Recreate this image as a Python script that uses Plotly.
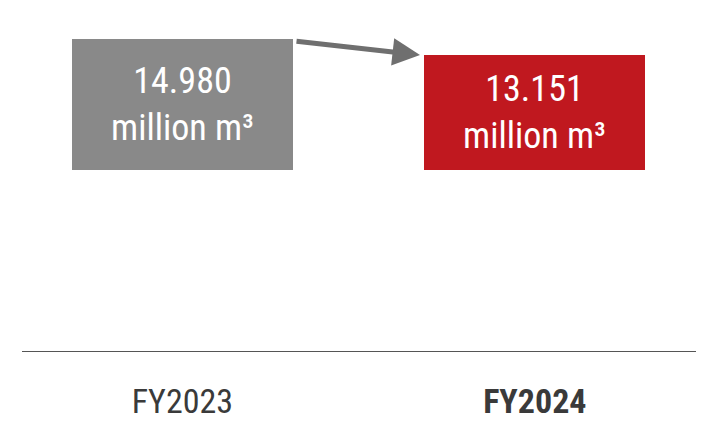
import plotly.graph_objects as go

years = ['FY2023', 'FY2024']
tick_labels = ['FY2023', '<b>FY2024</b>']
volumes = [14.980, 13.151]
bar_labels = ['14.980<br>million m³', '13.151<br>million m³']
colors = ['#898989', '#c0181f']

font_name = 'Liberation Sans Narrow, Arial Narrow, Roboto Condensed, sans-serif'

fig = go.Figure(go.Bar(
    x=[0, 1], y=volumes, width=0.627,
    marker=dict(color=colors, line_width=0),
    text=bar_labels, textposition='inside', insidetextanchor='middle',
    textfont=dict(family=font_name, size=36, color='white'),
    textangle=0,
))

# arrow between the bar tops
fig.add_annotation(
    xref='x domain', yref='y domain',
    x=(412 - 14) / 676, y=(343 - 47) / 343,
    ax=(287 - 14) / 676, ay=(343 - 33) / 343,
    axref='x domain', ayref='y domain',
    text='', showarrow=True, arrowhead=2, arrowsize=1.1,
    arrowwidth=5, arrowcolor='#6f6f6f',
)

fig.update_layout(
    width=704, height=422,
    margin=dict(l=14, r=14, t=0, b=79),
    plot_bgcolor='white', paper_bgcolor='white',
    showlegend=False,
    bargap=0,
    font=dict(family=font_name),
    uniformtext=dict(minsize=10, mode='show'),
)
fig.update_xaxes(
    range=[-0.455, 1.463], tickvals=[0, 1], ticktext=tick_labels,
    tickfont=dict(size=34, color='#3a3a3a', family=font_name),
    showline=True, linecolor='#555555', linewidth=1,
    showgrid=False, zeroline=False, ticks='', ticklabelstandoff=20,
)
fig.update_yaxes(range=[-20.7, 18.52], visible=False, showgrid=False)

fig.write_html('out.html')
